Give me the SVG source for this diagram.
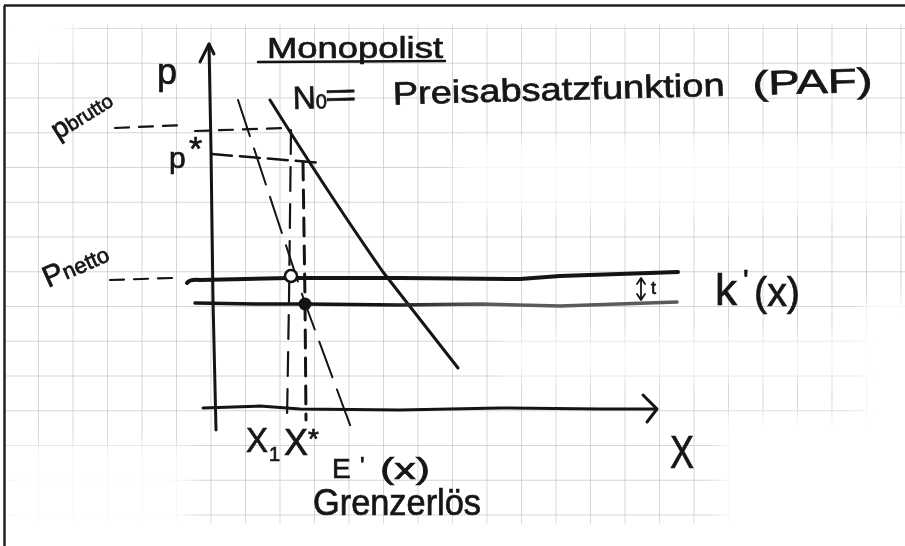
<svg xmlns="http://www.w3.org/2000/svg" width="905" height="546" viewBox="0 0 905 546">
<style>
.ink{fill:none;stroke:#141414;stroke-linecap:round;stroke-linejoin:round}
.txt{font-family:"Liberation Sans","DejaVu Sans",sans-serif;fill:#161616;stroke:#161616;stroke-width:0.7}
.fade{fill:#fff}
</style>
<defs>
<pattern id="grid" patternUnits="userSpaceOnUse" x="38" y="28" width="34.5" height="34.75">
<path d="M0,0 V34.75 M0,0 H34.5" fill="none" stroke="#c8c8c8" stroke-width="1.5"/>
</pattern>
<filter id="blur" x="-30%" y="-30%" width="160%" height="160%"><feGaussianBlur stdDeviation="8"/></filter>
<linearGradient id="lowgrad" gradientUnits="userSpaceOnUse" x1="380" y1="0" x2="480" y2="0">
<stop offset="0" stop-color="#141414"/><stop offset="1" stop-color="#5a5a5a"/>
</linearGradient>
</defs>
<rect width="905" height="546" fill="#fff"/>
<g id="paper">
<rect x="6" y="24" width="899" height="500" fill="url(#grid)"/>
<g filter="url(#blur)" class="fade">
<rect x="0" y="0" width="905" height="22"/>
<rect x="0" y="18" width="70" height="40"/>
<rect x="0" y="445" width="190" height="110" opacity="0.85"/>
<rect x="455" y="140" width="460" height="72" opacity="0.8"/>
<rect x="500" y="335" width="420" height="45" opacity="0.7"/>
<rect x="720" y="415" width="200" height="140"/>
<rect x="862" y="300" width="60" height="250"/>
<rect x="0" y="528" width="905" height="30"/>
</g>
</g>
<g id="frame">
<path d="M4.5,5.5 V546 M4,5.5 H905" fill="none" stroke="#222" stroke-width="2.5"/>
</g>
<g id="axes">
<path class="ink" stroke-width="3" d="M209,44 L211,150 L213,300 L216,430"/>
<path class="ink" stroke-width="3" d="M200,62 L209,44 L214,54"/>
<path class="ink" stroke-width="3" d="M203,408 L260,406 L300,409 L400,410 L500,408 L600,409 L656,409"/>
<path class="ink" stroke-width="3" d="M643,395 L657,409 L647,422"/>
</g>
<g id="curves">
<path id="paf" class="ink" stroke-width="3" d="M270,100 Q330,196 383,272 L458,368"/>
<path id="mr" class="ink" stroke-width="2" stroke-dasharray="38 13" d="M238,100 L305,303 L353,433"/>
<path id="cost-t" class="ink" stroke-width="4" d="M187,283 Q190,279 200,280 L290,278 L400,278 L520,279 L560,276 L678,272"/>
<path id="cost" fill="none" stroke="url(#lowgrad)" stroke-width="3.5" stroke-linecap="round" d="M195,303 L260,304 L305,304 L400,305 L480,304 L560,306 L677,302"/>
</g>
<g id="guides">
<path class="ink" stroke-width="2.2" stroke-dasharray="14 10" d="M115,128 L185,125 M195,131 L285,128"/>
<path class="ink" stroke-width="2.5" stroke-dasharray="20 8" d="M212,154 L322,163"/>
<path class="ink" stroke-width="2.2" stroke-dasharray="14 10" d="M110,280 L172,278"/>
<path class="ink" stroke-width="2.2" stroke-dasharray="24 13" d="M291,130 L289,300 L287,420"/>
<path class="ink" stroke-width="3" stroke-dasharray="18 10" d="M303,162 L305,300 L306,420"/>
<circle cx="291" cy="276" r="6" fill="#fff" stroke="#141414" stroke-width="2.5"/>
<circle cx="305" cy="304" r="6.5" fill="#141414"/>
<path class="ink" stroke-width="1.8" d="M641,279 L641,300 M637,294 L641,300 L645,294 M637,284 L641,278 L645,284"/>
</g>
<g id="labels">
<text class="txt" x="267" y="58" font-size="30" textLength="176" lengthAdjust="spacingAndGlyphs">Monopolist</text>
<path class="ink" stroke-width="2.5" d="M258,62 L445,61"/>
<g transform="rotate(-1.5 293 109)">
<text class="txt" x="293" y="109" font-size="32">N<tspan font-size="20">0</tspan></text>
<text class="txt" x="325" y="107" font-size="32" textLength="32" lengthAdjust="spacingAndGlyphs">=</text>
<text class="txt" x="393" y="107" font-size="32" textLength="332" lengthAdjust="spacingAndGlyphs">Preisabsatzfunktion</text>
<text class="txt" x="753" y="107" font-size="34" textLength="120" lengthAdjust="spacingAndGlyphs">(PAF)</text>
</g>
<text class="txt" x="157" y="84" font-size="36">p</text>
<text class="txt" transform="rotate(-32 58 140)" x="58" y="140" font-size="28">p<tspan font-size="20">brutto</tspan></text>
<text class="txt" x="169" y="168" font-size="30">p</text>
<text class="txt" x="189" y="160" font-size="34">*</text>
<text class="txt" transform="rotate(-24 48 288)" x="48" y="288" font-size="30">P<tspan font-size="22">netto</tspan></text>
<text class="txt" x="246" y="452" font-size="35" textLength="22" lengthAdjust="spacingAndGlyphs">X</text>
<text class="txt" x="269" y="461" font-size="20">1</text>
<text class="txt" x="284" y="455" font-size="36" textLength="24" lengthAdjust="spacingAndGlyphs">X</text>
<text class="txt" x="308" y="448" font-size="28">*</text>
<text class="txt" x="670" y="468" font-size="46" textLength="24" lengthAdjust="spacingAndGlyphs">X</text>
<text class="txt" x="332" y="478" font-size="28">E</text>
<text class="txt" x="360" y="474" font-size="24">'</text>
<text class="txt" x="380" y="479" font-size="30" textLength="50" lengthAdjust="spacingAndGlyphs">(x)</text>
<text class="txt" x="313" y="515" font-size="36" textLength="168" lengthAdjust="spacingAndGlyphs">Grenzerlös</text>
<text class="txt" x="651" y="294" font-size="18">t</text>
<text class="txt" x="715" y="305" font-size="44">k</text>
<text class="txt" x="743" y="290" font-size="30">'</text>
<text class="txt" x="754" y="306" font-size="40" textLength="46" lengthAdjust="spacingAndGlyphs">(x)</text>
</g>
</svg>
